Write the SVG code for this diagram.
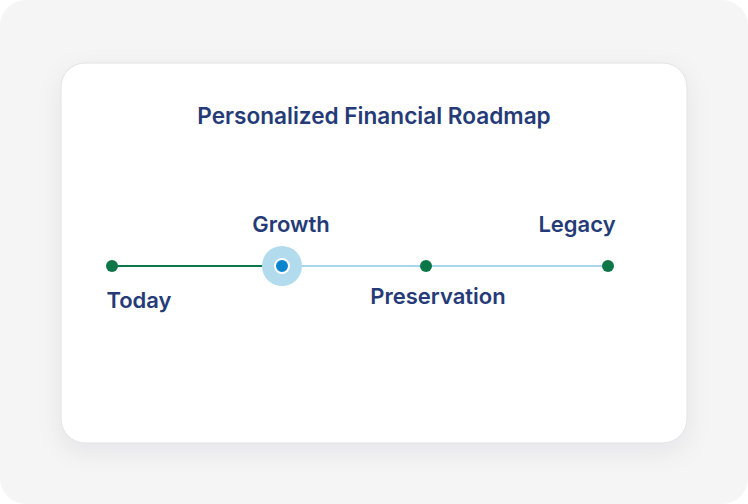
<svg xmlns="http://www.w3.org/2000/svg" width="748" height="504" viewBox="0 0 748 504">
<defs>
<filter id="sh" x="-20%" y="-20%" width="140%" height="150%">
<feDropShadow dx="0" dy="8" stdDeviation="12" flood-color="#1a2340" flood-opacity="0.07"/>
</filter>
<style>
.lbl{font-family:Inter,"Liberation Sans",sans-serif;font-weight:600;font-size:22px;fill:#253b77}
.dot{fill:#0b7647}
</style>
</defs>
<rect x="0" y="0" width="748" height="504" fill="#ffffff"/>
<rect x="0" y="0" width="748" height="504" rx="26" fill="#f5f5f6"/>
<rect x="61" y="63" width="626" height="380" rx="24" fill="#ffffff" stroke="#e1e1e4" stroke-width="1" filter="url(#sh)"/>
<text x="374" y="124" text-anchor="middle" class="lbl" style="font-size:22.6px">Personalized Financial Roadmap</text>
<g id="connectors">
<line x1="112" y1="266" x2="282" y2="266" stroke="#0b7647" stroke-width="2"/>
<line x1="282" y1="266" x2="608" y2="266" stroke="#a9d5ec" stroke-width="2"/>
</g>
<g id="today">
<circle cx="112" cy="266" r="6" class="dot"/>
<text x="139" y="308" text-anchor="middle" class="lbl">Today</text>
</g>
<g id="growth">
<circle cx="282" cy="266" r="20" fill="#b2dbee"/>
<circle cx="282" cy="266" r="7" fill="#0a84cc" stroke="#ffffff" stroke-width="2"/>
<text x="291" y="232" text-anchor="middle" class="lbl">Growth</text>
</g>
<g id="preservation">
<circle cx="426" cy="266" r="6" class="dot"/>
<text x="438" y="304" text-anchor="middle" class="lbl">Preservation</text>
</g>
<g id="legacy">
<circle cx="608" cy="266" r="6" class="dot"/>
<text x="577" y="232" text-anchor="middle" class="lbl">Legacy</text>
</g>
</svg>
